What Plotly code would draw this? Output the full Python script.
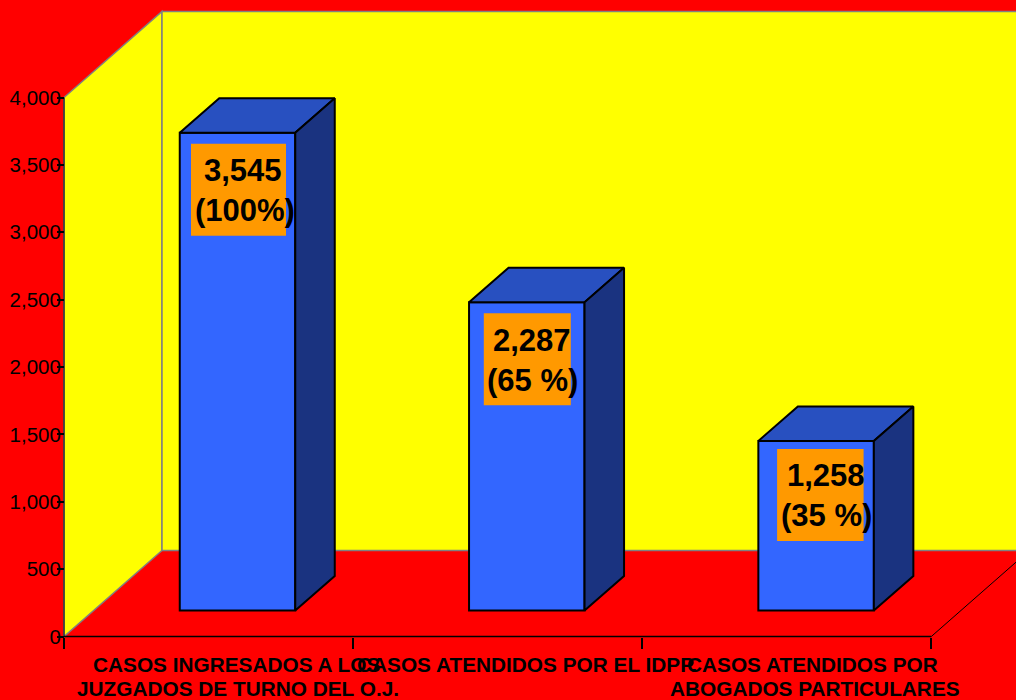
import plotly.graph_objects as go

# --- data ---
categories = [1, 2, 3]
line_one = ["CASOS INGRESADOS A LOS", "CASOS ATENDIDOS POR EL IDPP.", "CASOS ATENDIDOS POR"]
line_two = ["JUZGADOS DE TURNO DEL O.J.", "", "ABOGADOS PARTICULARES"]
casos = [3545, 2287, 1258]
pct_labels = ["(100%)", "(65 %)", "(35 %)"]
count_labels = ["3,545", "2,287", "1,258"]
y_ticks = [0, 500, 1000, 1500, 2000, 2500, 3000, 3500, 4000]
y_tick_text = ["0", "500", "1,000", "1,500", "2,000", "2,500", "3,000", "3,500", "4,000"]

# --- geometry / style ---
W, H = 1016, 700
UX = 289.3              # px per category
UY = 539 / 4000         # px per value unit
X1_PX, Y0_PX = 237.5, 636.5
x_range = [1 - X1_PX / UX, 1 + (W - X1_PX) / UX]
y_range = [(Y0_PX - H) / UY, Y0_PX / UY]

def dx(px):
    return px / UX

def dy(px):
    return px / UY

BAR_W = dx(115.5)
BASE = dy(26)
BAR_DX, BAR_DY = dx(39.5), dy(34.5)
WALL_DX, WALL_DY = dx(98), dy(86)
LEFT = 1 - dx(173.5)
RIGHT = LEFT + 3 * dx(289.1)
TOP = 4000
RED, YELLOW, GREY = "#FF0000", "#FFFF00", "#808080"
FRONT, TOPC, SIDE = "#3366FF", "#2850C0", "#1A3380"
ORANGE = "#FF9900"
FONT = "Liberation Sans, Arial, sans-serif"

box_left = [-46.5, -43, -39]
box_right = [48.5, 44, 47.5]
box_gap = [11, 11, 8]
text_dx = [[5.5, 7.5], [5, 6], [9.5, 10]]
line_one_dx = [-1.5, 0, -4]
line_two_dx = [0, 0, -1]

def path(pts):
    return "M " + " L ".join(f"{a},{b}" for a, b in pts) + " Z"

shapes = [
    dict(type="path", path=path([(LEFT, 0), (LEFT, TOP), (LEFT + WALL_DX, TOP + WALL_DY), (LEFT + WALL_DX, WALL_DY)]),
         fillcolor=YELLOW, line=dict(color=GREY, width=1.5), layer="below"),
    dict(type="rect", x0=LEFT + WALL_DX, x1=x_range[1] + 0.1, y0=WALL_DY, y1=TOP + WALL_DY,
         fillcolor=YELLOW, line=dict(color=GREY, width=1.5), layer="below"),
    dict(type="line", x0=RIGHT, x1=RIGHT + WALL_DX, y0=0, y1=WALL_DY,
         line=dict(color="#000000", width=1), layer="below"),
]

fig = go.Figure()

# top and side faces, built from the values
for c, v in zip(categories, casos):
    xl, xr = c - BAR_W / 2, c + BAR_W / 2
    yb, yt = BASE, BASE + v
    fig.add_trace(go.Scatter(
        x=[xl, xr, xr + BAR_DX, xl + BAR_DX, xl],
        y=[yt, yt, yt + BAR_DY, yt + BAR_DY, yt],
        mode="lines", fill="toself", fillcolor=TOPC,
        line=dict(color="#000000", width=2), hoverinfo="skip", showlegend=False))
    fig.add_trace(go.Scatter(
        x=[xr, xr + BAR_DX, xr + BAR_DX, xr, xr],
        y=[yb, yb + BAR_DY, yt + BAR_DY, yt, yb],
        mode="lines", fill="toself", fillcolor=SIDE,
        line=dict(color="#000000", width=2), hoverinfo="skip", showlegend=False))

# front faces
fig.add_trace(go.Bar(
    x=categories, y=casos, base=BASE, width=BAR_W,
    marker=dict(color=FRONT, line=dict(color="#000000", width=2)), showlegend=False))

# axis lines
fig.add_trace(go.Scatter(x=[LEFT, LEFT], y=[0, TOP], mode="lines",
                         line=dict(color="#333333", width=1.5), hoverinfo="skip", showlegend=False))
fig.add_trace(go.Scatter(x=[LEFT, RIGHT], y=[0, 0], mode="lines",
                         line=dict(color="#000000", width=1.5), hoverinfo="skip", showlegend=False))

annotations = []
for i, (c, v) in enumerate(zip(categories, casos)):
    top = BASE + v
    shapes.append(dict(type="rect", x0=c + dx(box_left[i]), x1=c + dx(box_right[i]),
                       y0=top - dy(box_gap[i] + 92), y1=top - dy(box_gap[i]),
                       fillcolor=ORANGE, line=dict(width=0), layer="above"))
    annotations.append(dict(x=c + dx(text_dx[i][0]), y=top - dy(box_gap[i] + 27), text=f"<b>{count_labels[i]}</b>",
                            showarrow=False, xanchor="center", yanchor="middle",
                            font=dict(family=FONT, size=31, color="#000000")))
    annotations.append(dict(x=c + dx(text_dx[i][1]), y=top - dy(box_gap[i] + 67), text=f"<b>{pct_labels[i]}</b>",
                            showarrow=False, xanchor="center", yanchor="middle",
                            font=dict(family=FONT, size=31, color="#000000")))
    annotations.append(dict(x=c + dx(line_one_dx[i]), y=-dy(27.5), text=f"<b>{line_one[i]}</b>", showarrow=False,
                            xanchor="center", yanchor="middle",
                            font=dict(family=FONT, size=20.8, color="#000000")))
    if line_two[i]:
        annotations.append(dict(x=c + dx(line_two_dx[i]), y=-dy(51.5), text=f"<b>{line_two[i]}</b>", showarrow=False,
                                xanchor="center", yanchor="middle",
                                font=dict(family=FONT, size=20.8, color="#000000")))

fig.update_layout(
    width=W, height=H, margin=dict(l=0, r=0, t=0, b=0),
    paper_bgcolor=RED, plot_bgcolor=RED, showlegend=False,
    shapes=shapes, annotations=annotations, barmode="overlay",
    xaxis=dict(range=x_range, domain=[0, 1], anchor="free", position=(H - Y0_PX) / H,
               showgrid=False, zeroline=False, showline=False,
               tickmode="array", tickvals=[LEFT + i * (RIGHT - LEFT) / 3 for i in range(4)],
               ticktext=["", "", "", ""], ticks="outside", ticklen=11, tickwidth=1.5, tickcolor="#000000"),
    yaxis=dict(range=y_range, domain=[0, 1], anchor="free", position=(LEFT - x_range[0]) / (x_range[1] - x_range[0]),
               showgrid=False, zeroline=False, showline=False,
               tickmode="array", tickvals=y_ticks, ticktext=y_tick_text,
               ticks="outside", ticklen=7, tickwidth=1.5, tickcolor="#000000", ticklabelstandoff=-8,
               tickfont=dict(family=FONT, size=20.5, color="#000000")),
)

fig.write_html("out.html", config=dict(displayModeBar=False),
               post_script="document.body.style.margin='0';document.body.style.background='#FF0000';")
